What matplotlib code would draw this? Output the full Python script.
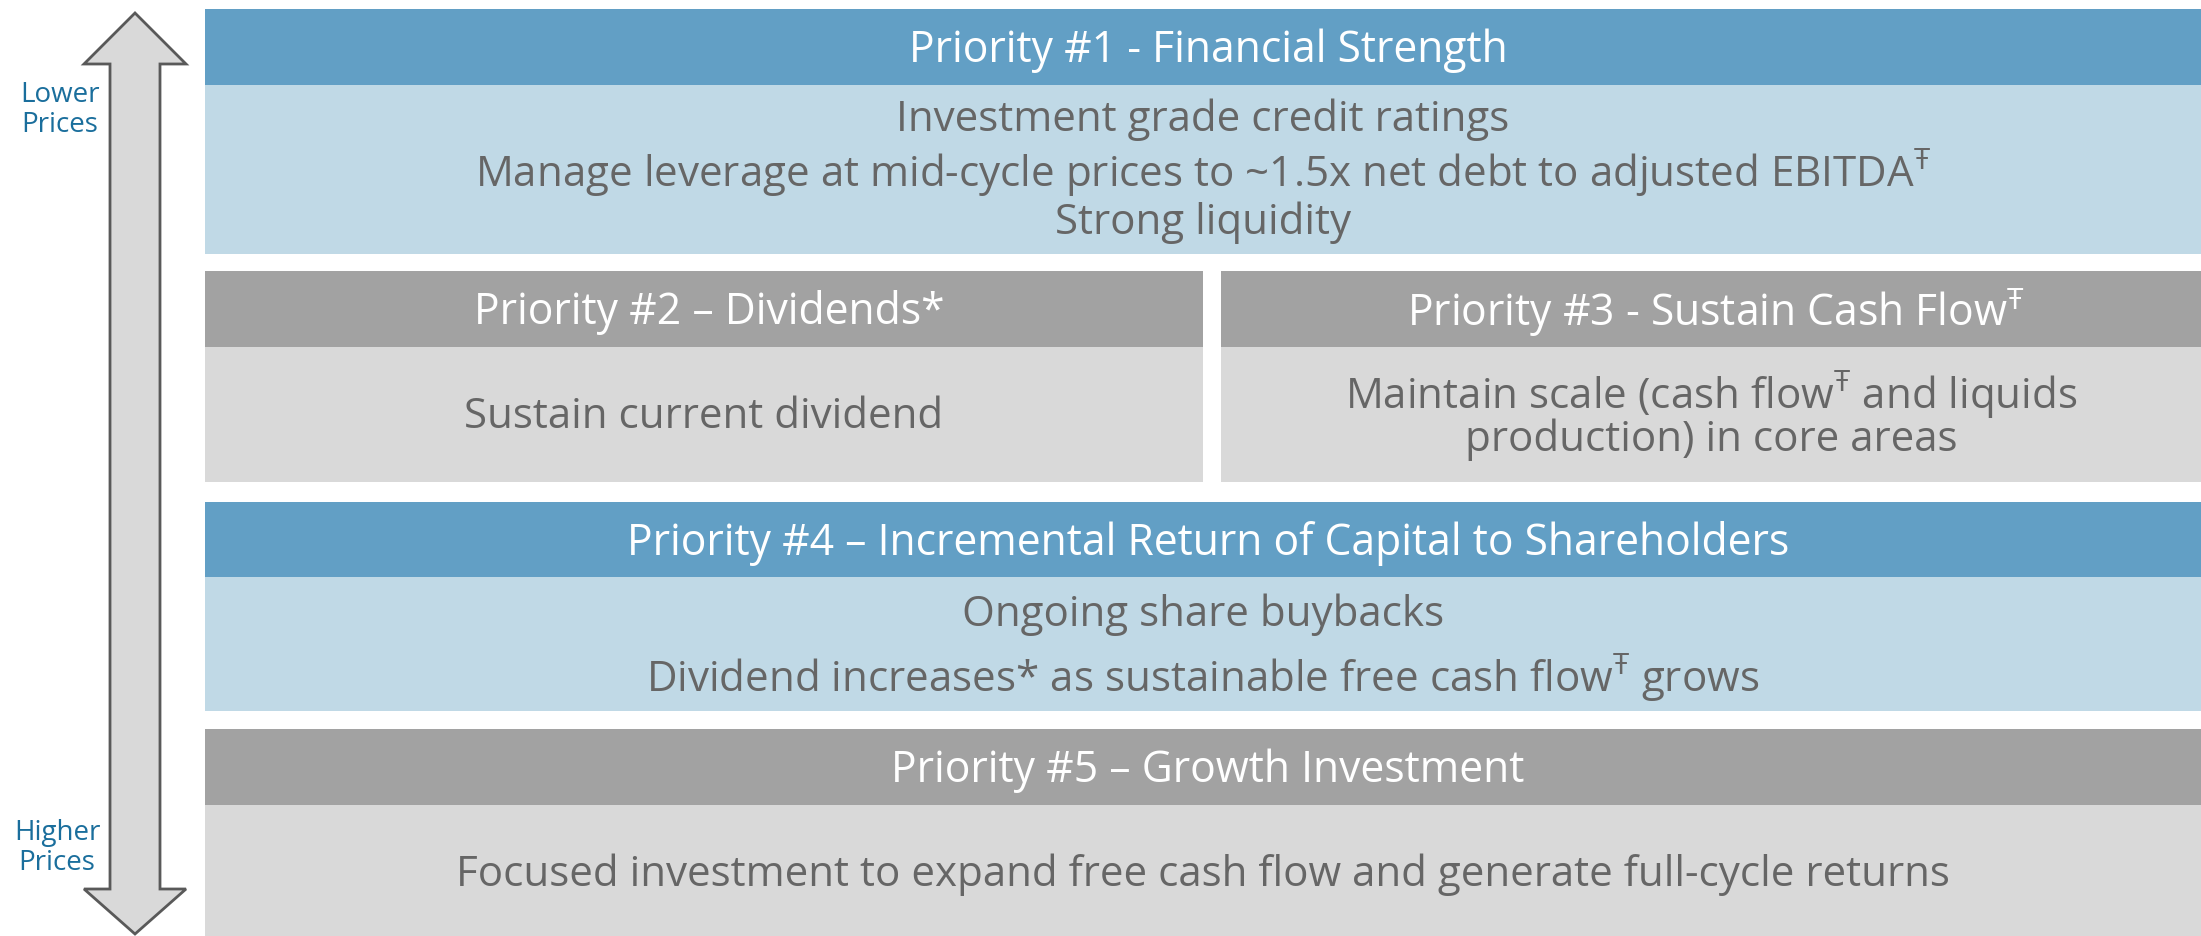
import matplotlib.pyplot as plt
from matplotlib.patches import Rectangle, Polygon

plt.rcParams['font.family'] = ['Open Sans', 'DejaVu Sans']
plt.rcParams['mathtext.fontset'] = 'custom'
plt.rcParams['mathtext.rm'] = 'Open Sans'

T = r'$^{\mathrm{Ŧ}}$'

# box text
headers = ['Priority #1 - Financial Strength',
           'Priority #2 – Dividends*',
           'Priority #3 - Sustain Cash Flow' + T,
           'Priority #4 – Incremental Return of Capital to Shareholders',
           'Priority #5 – Growth Investment']
bodies = [['Investment grade credit ratings',
           'Manage leverage at mid-cycle prices to ~1.5x net debt to adjusted EBITDA' + T,
           'Strong liquidity'],
          ['Sustain current dividend'],
          ['Maintain scale (cash flow' + T + ' and liquids', 'production) in core areas'],
          ['Ongoing share buybacks',
           'Dividend increases* as sustainable free cash flow' + T + ' grows'],
          ['Focused investment to expand free cash flow and generate full-cycle returns']]
kinds = ['blue', 'grey', 'grey', 'blue', 'grey']

# layout in pixels: x0, x1, header top, header bottom, body bottom
boxes = [(205, 2201, 10, 86, 255),
         (205, 1203, 272, 348, 483),
         (1221, 2201, 272, 348, 483),
         (205, 2201, 503, 578, 712),
         (205, 2201, 730, 806, 937)]
body_y = [[120, 173, 223], [417], [395, 440], [615, 678], [875]]

colors = {'blue': ('#629fc5', '#c0d9e6'), 'grey': ('#a2a2a2', '#d9d9d9')}

fig = plt.figure(figsize=(22.01, 9.37), dpi=100)
ax = fig.add_axes([0, 0, 1, 1])
ax.set_xlim(0, 2201)
ax.set_ylim(937, 0)
ax.axis('off')

for i, (x0, x1, ht, hb, bb) in enumerate(boxes):
    hc, bc = colors[kinds[i]]
    ax.add_patch(Rectangle((x0, ht), x1 - x0, hb - ht, color=hc, lw=0))
    ax.add_patch(Rectangle((x0, hb), x1 - x0, bb - hb, color=bc, lw=0))
    ax.text((x0 + x1) / 2 + 5, (ht + hb) / 2 + 3, headers[i], color='white',
            fontsize=30.7, ha='center', va='center')
    for line, y in zip(bodies[i], body_y[i]):
        ax.text((x0 + x1) / 2, y, line, color='#666666', fontsize=30.3,
                ha='center', va='center')

# double arrow
cx, shaft, head = 135, 25, 51
top, hbase_top, bottom, hbase_bot = 14, 65, 935, 890
pts = [(cx, top), (cx + head, hbase_top), (cx + shaft, hbase_top),
       (cx + shaft, hbase_bot), (cx + head, hbase_bot), (cx, bottom),
       (cx - head, hbase_bot), (cx - shaft, hbase_bot), (cx - shaft, hbase_top),
       (cx - head, hbase_top)]
ax.add_patch(Polygon(pts, closed=True, facecolor='#d9d9d9', edgecolor='#595959', lw=2))

ax.text(60, 110, 'Lower\nPrices', color='#1a6e9c', fontsize=20, ha='center',
        va='center', linespacing=1.1)
ax.text(57, 848, 'Higher\nPrices', color='#1a6e9c', fontsize=20, ha='center',
        va='center', linespacing=1.1)

fig.savefig('out.png', dpi=100)
